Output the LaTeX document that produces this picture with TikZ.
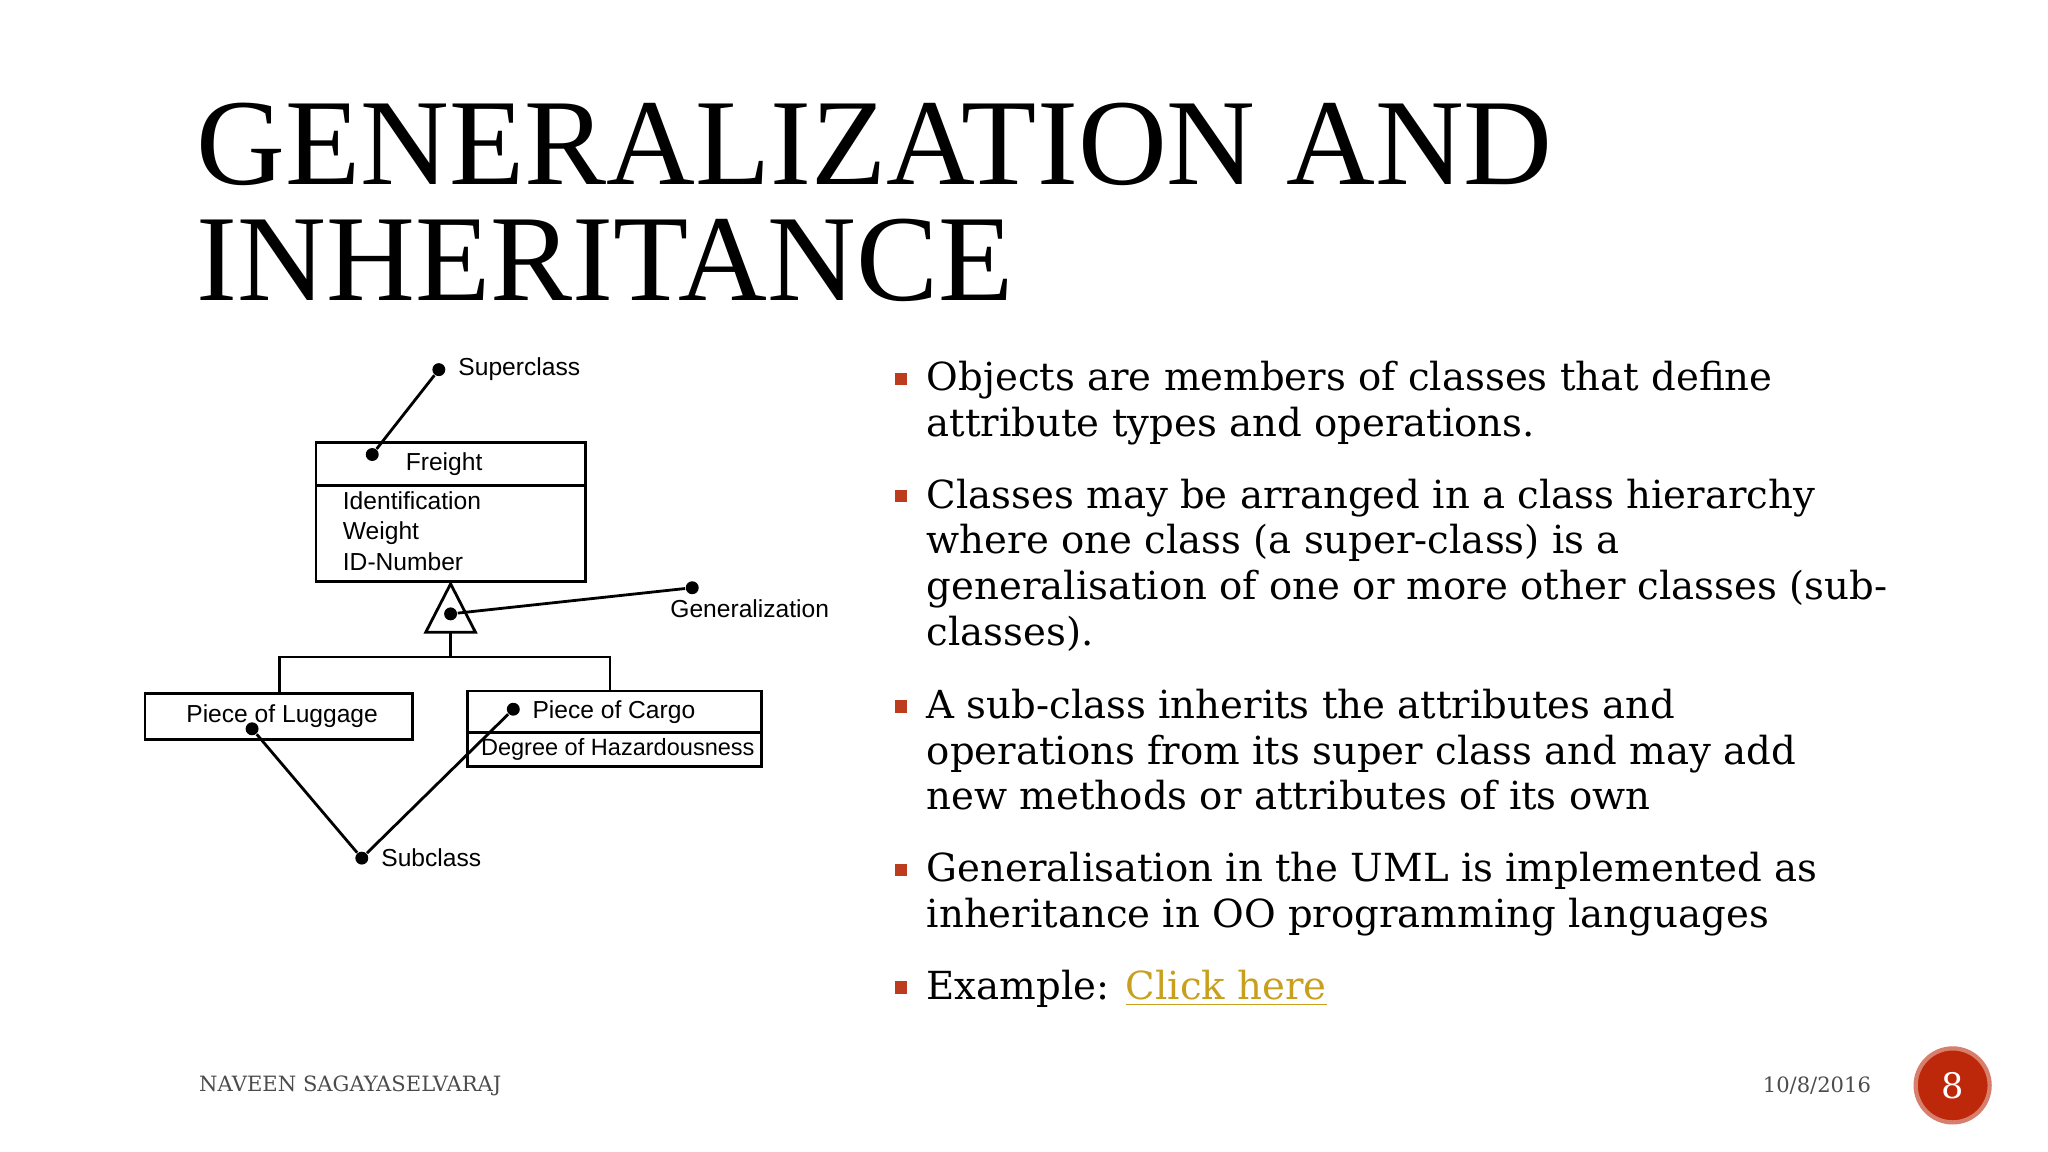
\documentclass[tikz,border=0pt]{standalone}
\usepackage{fontspec}
\setmainfont{DejaVu Serif}
\newfontfamily\titlefont{Liberation Serif}
\setsansfont{Liberation Sans}
\usetikzlibrary{positioning}
\definecolor{bulletred}{RGB}{190,60,30}
\definecolor{linkgold}{RGB}{200,160,30}
\definecolor{badgered}{RGB}{190,40,10}
\tikzset{
  tag/.style={font=\sffamily\fontsize{7}{8.6}\selectfont},
  pin dot/.style={circle,fill=black,inner sep=1.3pt},
  point/.style={align=left,font=\fontsize{11}{13}\selectfont,anchor=north west,inner sep=0pt},
  sqbullet/.style={fill=bulletred,minimum size=3.5pt,inner sep=0pt},
}
\begin{document}
\begin{tikzpicture}[x=0.01306cm,y=-0.01306cm]
\useasboundingbox (0,0) rectangle (1568,882);

% Title
\node (title) [anchor=north west,inner sep=0pt,align=left,font=\titlefont\fontsize{35}{33}\selectfont] at (150,78) {GENERALIZATION AND\\INHERITANCE};

% Class boxes
\draw[thick] (242,339) rectangle (448,445);
\draw[thick] (242,372) -- (448,372);
\node (freight) [tag] at (340,355) {Freight};
\node (attrs) [tag,anchor=north west,align=left,inner sep=0pt] at (262,376) {Identification\\Weight\\ID-Number};

\draw[thick] (111,531) rectangle (316,566);
\node (luggage) [tag] at (216,548) {Piece of Luggage};
\draw[thick] (358,529) rectangle (583,587);
\draw[thick] (358,561) -- (583,561);
\node (cargo) [tag] at (470,545) {Piece of Cargo};
\node (hazard) [tag,font=\sffamily\fontsize{6.7}{8}\selectfont] at (473,574) {Degree of Hazardousness};

% Generalization triangle and tree
\coordinate (apex) at (345,447);
\draw[thick,fill=white] (apex) -- (326,484) -- (364,484) -- cycle;
\coordinate (stem) at (345,503);
\draw[thick] (345,484) -- (stem);
\draw[thick] (214,531) -- (214,503) -- (467,503) -- (467,529);

% Pins
\node (supdot) [pin dot] at (336,283) {};
\node (fdot) [pin dot] at (285,348) {};
\draw[thick] (supdot) -- (fdot);
\node [tag,right=0pt of supdot] {Superclass};
\node (gdot) [pin dot] at (530,450) {};
\node (tdot) [pin dot] at (345,470) {};
\draw[thick] (gdot) -- (tdot);
\node [tag] at (574,466) {Generalization};
\node (subdot) [pin dot] at (277,657) {};
\node (ldot) [pin dot] at (193,558) {};
\node (cdot) [pin dot] at (393,543) {};
\draw[thick] (ldot) -- (subdot) -- (cdot);
\node [tag,right=0pt of subdot] {Subclass};

% Bullet points
\foreach \y/\txt in {
  276/{Objects are members of classes that define\\attribute types and operations.},
  366/{Classes may be arranged in a class hierarchy\\where one class (a super-class) is a\\generalisation of one or more other classes (sub-\\classes).},
  527/{A sub-class inherits the attributes and\\operations from its super class and may add\\new methods or attributes of its own},
  652/{Generalisation in the UML is implemented as\\inheritance in OO programming languages},
  742/{Example: \textcolor{linkgold}{\underline{Click here}}}} {
  \node [sqbullet] at (690,\y+14) {};
  \node [point] at (709,\y) {\txt};
}

% Footer
\node (author) [anchor=west,inner sep=0pt,font=\fontsize{6}{7}\selectfont,text=black!70] at (152,831) {NAVEEN SAGAYASELVARAJ};
\node (date) [anchor=east,inner sep=0pt,font=\fontsize{6}{7}\selectfont,text=black!70] at (1433,831) {10/8/2016};
\node (badge) [circle,fill=badgered,draw=badgered!60,line width=1.2pt,minimum size=0.74cm,inner sep=0pt,text=white,font=\fontsize{10}{12}\selectfont] at (1495,831) {8};
\end{tikzpicture}
\end{document}
